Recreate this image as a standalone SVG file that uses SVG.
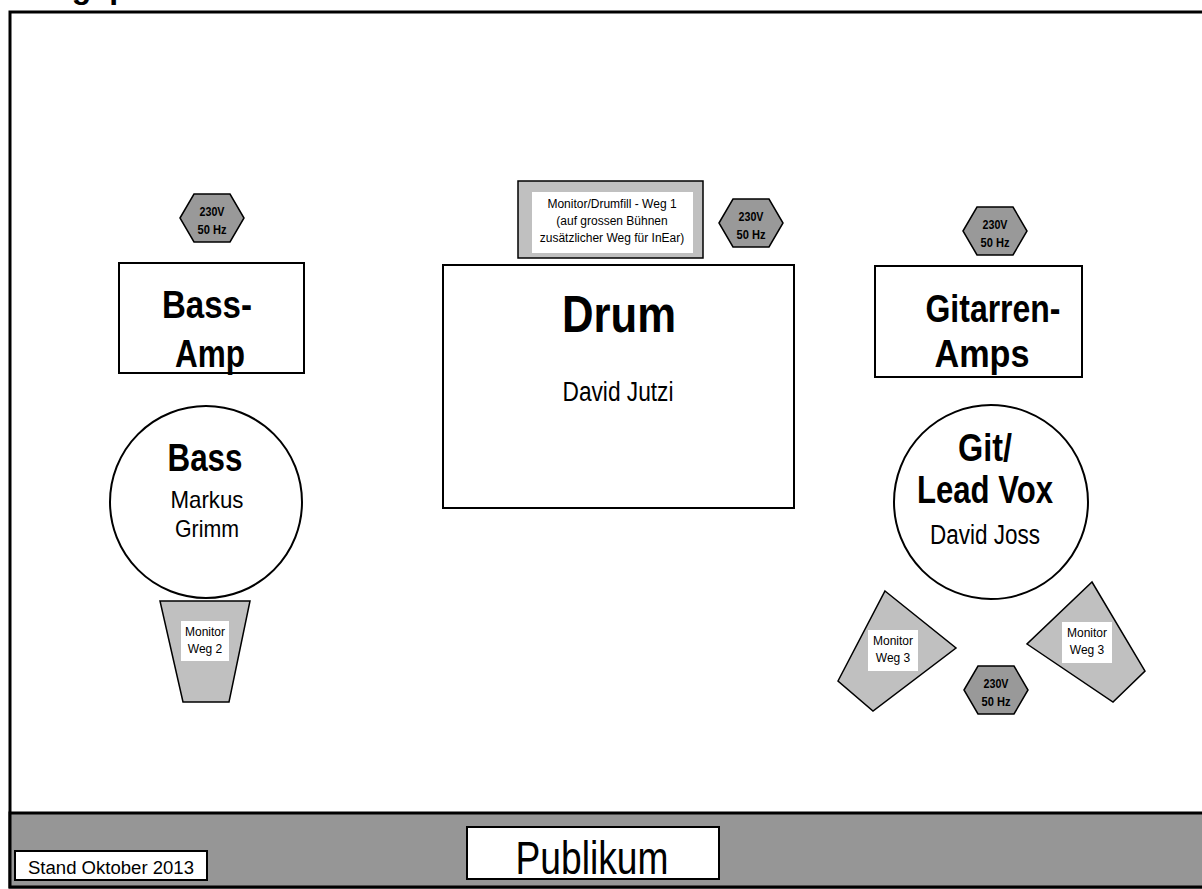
<svg xmlns="http://www.w3.org/2000/svg" width="1202" height="889" viewBox="0 0 1202 889">
<style>
text{font-family:"Liberation Sans",Arial,sans-serif;text-anchor:middle;fill:#000}
.b{font-weight:bold}
.box{fill:#fff;stroke:#000;stroke-width:2}
.hex{fill:#999;stroke:#000;stroke-width:1.5}
.hext{font-size:13px;font-weight:bold}
.mon{fill:#c0c0c0;stroke:#000;stroke-width:1.5}
.lbl{fill:#fff;stroke:none}
.small{font-size:12px}
</style>
<defs>
<polygon id="hexshape" points="-32,0 -18,-24 18,-24 32,0 18,24 -18,24"/>
</defs>
<text class="b" x="22" y="-2" style="text-anchor:start;font-size:32px">Stageplan</text>
<rect x="10" y="12" width="1200" height="875" fill="#fff" stroke="#000" stroke-width="3"/>
<rect x="10" y="813" width="1200" height="74" fill="#969696" stroke="#000" stroke-width="3"/>

<g id="stand">
<rect x="15" y="851" width="192" height="29" class="box" stroke-width="1.5"/>
<text x="111" y="874" style="font-size:18px" textLength="166" lengthAdjust="spacingAndGlyphs">Stand Oktober 2013</text>
</g>
<g id="publikum">
<rect x="467" y="827" width="252" height="52" class="box"/>
<text x="592" y="874" style="font-size:46px" textLength="153" lengthAdjust="spacingAndGlyphs">Publikum</text>
</g>

<g id="bass-power">
<use href="#hexshape" x="212" y="218" class="hex"/>
<text class="hext" x="212" y="216" textLength="25" lengthAdjust="spacingAndGlyphs">230V</text>
<text class="hext" x="212" y="234" textLength="29" lengthAdjust="spacingAndGlyphs">50 Hz</text>
</g>
<g id="bass-amp">
<rect x="119" y="263" width="185" height="110" class="box"/>
<text class="b" x="207" y="318" style="font-size:39px" textLength="90" lengthAdjust="spacingAndGlyphs">Bass-</text>
<text class="b" x="210" y="367" style="font-size:39px" textLength="70" lengthAdjust="spacingAndGlyphs">Amp</text>
</g>
<g id="bass">
<circle cx="206" cy="502" r="96" class="box"/>
<text class="b" x="205" y="471" style="font-size:38px" textLength="75" lengthAdjust="spacingAndGlyphs">Bass</text>
<text x="207" y="508" style="font-size:24px" textLength="73" lengthAdjust="spacingAndGlyphs">Markus</text>
<text x="207" y="537" style="font-size:24px" textLength="64" lengthAdjust="spacingAndGlyphs">Grimm</text>
</g>
<g id="monitor-weg2">
<polygon points="160,601 250,601 229,702 183,702" class="mon"/>
<rect x="181" y="621" width="48" height="40" class="lbl"/>
<text class="small" x="205" y="636">Monitor</text>
<text class="small" x="205" y="653">Weg 2</text>
</g>

<g id="drumfill">
<rect x="518" y="181" width="185" height="77" class="mon" stroke-width="2"/>
<rect x="532" y="192" width="161" height="61" class="lbl"/>
<text class="small" x="612" y="208">Monitor/Drumfill - Weg 1</text>
<text class="small" x="612" y="225">(auf grossen Bühnen</text>
<text class="small" x="612" y="242">zusätzlicher Weg für InEar)</text>
</g>
<g id="drum-power">
<use href="#hexshape" x="751" y="223" class="hex"/>
<text class="hext" x="751" y="221" textLength="25" lengthAdjust="spacingAndGlyphs">230V</text>
<text class="hext" x="751" y="239" textLength="29" lengthAdjust="spacingAndGlyphs">50 Hz</text>
</g>
<g id="drum">
<rect x="443" y="265" width="351" height="243" class="box"/>
<text class="b" x="619" y="332" style="font-size:52px" textLength="114" lengthAdjust="spacingAndGlyphs">Drum</text>
<text x="618" y="401" style="font-size:27px" textLength="111" lengthAdjust="spacingAndGlyphs">David Jutzi</text>
</g>

<g id="git-power">
<use href="#hexshape" x="995" y="231" class="hex"/>
<text class="hext" x="995" y="229" textLength="25" lengthAdjust="spacingAndGlyphs">230V</text>
<text class="hext" x="995" y="247" textLength="29" lengthAdjust="spacingAndGlyphs">50 Hz</text>
</g>
<g id="git-amps">
<rect x="875" y="266" width="207" height="111" class="box"/>
<text class="b" x="993" y="322" style="font-size:39px" textLength="135" lengthAdjust="spacingAndGlyphs">Gitarren-</text>
<text class="b" x="982" y="367" style="font-size:39px" textLength="95" lengthAdjust="spacingAndGlyphs">Amps</text>
</g>
<g id="git">
<circle cx="991" cy="502" r="97" class="box"/>
<text class="b" x="985" y="461" style="font-size:38px" textLength="54" lengthAdjust="spacingAndGlyphs">Git/</text>
<text class="b" x="985" y="503" style="font-size:38px" textLength="136" lengthAdjust="spacingAndGlyphs">Lead Vox</text>
<text x="985" y="544" style="font-size:27px" textLength="110" lengthAdjust="spacingAndGlyphs">David Joss</text>
</g>
<g id="monitor-weg3-left">
<polygon points="885,591 956,648 873,711 838,681" class="mon"/>
<rect x="868" y="630" width="50" height="41" class="lbl"/>
<text class="small" x="893" y="645">Monitor</text>
<text class="small" x="893" y="662">Weg 3</text>
</g>
<g id="monitor-weg3-right">
<polygon points="1092,582 1145,671 1113,702 1027,644" class="mon"/>
<rect x="1062" y="622" width="50" height="41" class="lbl"/>
<text class="small" x="1087" y="637">Monitor</text>
<text class="small" x="1087" y="654">Weg 3</text>
</g>
<g id="stage-power">
<use href="#hexshape" x="996" y="690" class="hex"/>
<text class="hext" x="996" y="688" textLength="25" lengthAdjust="spacingAndGlyphs">230V</text>
<text class="hext" x="996" y="706" textLength="29" lengthAdjust="spacingAndGlyphs">50 Hz</text>
</g>
</svg>
